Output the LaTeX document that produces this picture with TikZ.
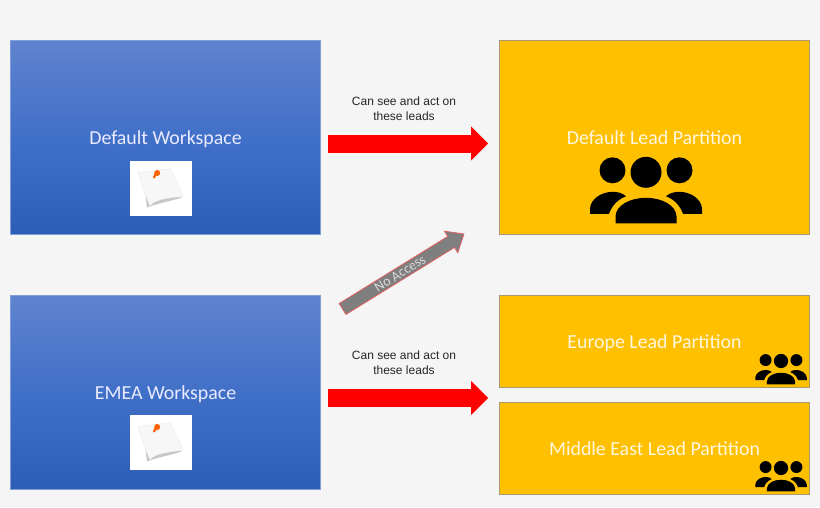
\documentclass[tikz,border=0pt]{standalone}
\usepackage{fontspec}
\setmainfont{Carlito}
\newfontfamily\labelfont{Liberation Sans}
\usetikzlibrary{shapes.arrows,arrows.meta,positioning,calc}

\definecolor{pagebg}{HTML}{F5F5F5}
\definecolor{wstop}{HTML}{5F83CF}
\definecolor{wsmid}{HTML}{4170C8}
\definecolor{wsbot}{HTML}{2D5DB5}
\definecolor{wsline}{HTML}{7F9FD8}
\definecolor{leadfill}{HTML}{FFC000}
\definecolor{leadline}{HTML}{A89A70}
\definecolor{noaccessfill}{HTML}{7F7F7F}
\definecolor{noaccessline}{HTML}{E06060}

\tikzset{
    peopleicon/.pic={
        \fill[black] (0,0) circle (15.5);
        \fill[black] (-33.5,-2) circle (13);
        \fill[black] (33.5,-2) circle (13);
        \fill[black] (-30.5,51) -- (30.5,51) -- (30.5,44) .. controls (30,33) and (16,25.5) .. (0,25.5) .. controls (-16,25.5) and (-30,33) .. (-30.5,44) -- cycle;
        \fill[black] (-56,41.5) -- (-56,36) .. controls (-55,26) and (-44,19.5) .. (-33,19.5) .. controls (-28,19.5) and (-23,21) .. (-20,24) .. controls (-28,27) and (-34,33) .. (-37,41.5) -- cycle;
        \fill[black] (56,41.5) -- (56,36) .. controls (55,26) and (44,19.5) .. (33,19.5) .. controls (28,19.5) and (23,21) .. (20,24) .. controls (28,27) and (34,33) .. (37,41.5) -- cycle;
    },
    notepaper/.pic={
        \fill[black!22] (-16,2) -- (-14,19) .. controls (-4,15) and (8,13) .. (21,9) -- cycle;
        \fill[black!3, draw=black!8, line width=.3pt] (-23,-16) -- (9,-20) .. controls (14,-10) and (19,-1) .. (22,8) .. controls (8,9) and (-6,11) .. (-11,17) .. controls (-16,6) and (-20,-5) .. (-23,-16) -- cycle;
        \draw[orange!70!red, line width=1.6pt, line cap=round] (-7,-11) -- (-4.5,-16);
        \fill[orange!75!red] (-3.8,-15.5) circle (3);
    }
}

\begin{document}
\begin{tikzpicture}[
    x=.75pt, y=-.75pt,
    workspace/.style={rectangle, draw=wsline, line width=.6pt, top color=wstop, bottom color=wsbot, middle color=wsmid, text=white!92!blue, font=\fontsize{14.9}{16}\selectfont, text height=14pt, text depth=3pt, minimum width=232.5pt, minimum height=145.5pt},
    leadbig/.style={rectangle, draw=leadline, line width=.6pt, fill=leadfill, text=white!88!leadfill, font=\fontsize{14.9}{16}\selectfont, text height=14pt, text depth=3pt, minimum width=232.5pt, minimum height=145.5pt},
    leadsmall/.style={leadbig, minimum height=69pt},
    notebox/.style={rectangle, fill=white, minimum width=46.5pt, minimum height=41.25pt},
    leadlabel/.style={align=center, text=black!85, font=\labelfont\fontsize{9}{11}\selectfont},
    leadarrow/.style={draw=red, line width=13.5pt, -{Triangle[length=12.75pt, width=25.5pt, fill=red, line width=0pt]}, shorten <=5.25pt, shorten >=8.25pt},
    noarrow/.style={single arrow, draw=noaccessline, line width=.6pt, fill=noaccessfill, text=white!85!black, inner sep=0pt, minimum height=107pt, minimum width=19pt, single arrow head extend=3.6pt, single arrow tip angle=80, font=\fontsize{10.5}{11}\selectfont}
]

\useasboundingbox (0,0) rectangle (820,507);
\fill[pagebg] (0,0) rectangle (820,507);

% Workspaces
\node[workspace] (wsdefault) at (165.5,137.5) {Default Workspace};
\node[workspace] (wsemea) at (165.5,392) {EMEA Workspace};

% Partitions
\node[leadbig] (leaddefault) at (654.5,137.5) {Default Lead Partition};
\node[leadsmall] (leadeurope) at (654.5,341.5) {Europe Lead Partition};
\node[leadsmall] (leadmiddle) at (654.5,448.5) {Middle East Lead Partition};

% Note pictures
\node[notebox] (notedefault) at (161,188.5) {};
\node[notebox] (noteemea) at (161,442.5) {};
\pic at (notedefault) {notepaper};
\pic at (noteemea) {notepaper};

% People icons
\pic at (646,172.3) {peopleicon};
\pic[scale=.46] at (781,361) {peopleicon};
\pic[scale=.46] at (781,468) {peopleicon};

% Arrows
\draw[leadarrow] ([yshift=-4.5pt]wsdefault.east) -- ([yshift=-4.5pt]leaddefault.west);
\draw[leadarrow] ([yshift=-4.5pt]wsemea.east) -- ([yshift=-4.5pt]wsemea.east -| leadeurope.west);

\node[leadlabel] (labeldefault) at (404,109) {Can see and act on\\these leads};
\node[leadlabel] (labelemea) at (404,363) {Can see and act on\\these leads};

% No access
\node[noarrow, rotate=31.7] (noaccess) at (400,273.5) {No Access};

\end{tikzpicture}
\end{document}
